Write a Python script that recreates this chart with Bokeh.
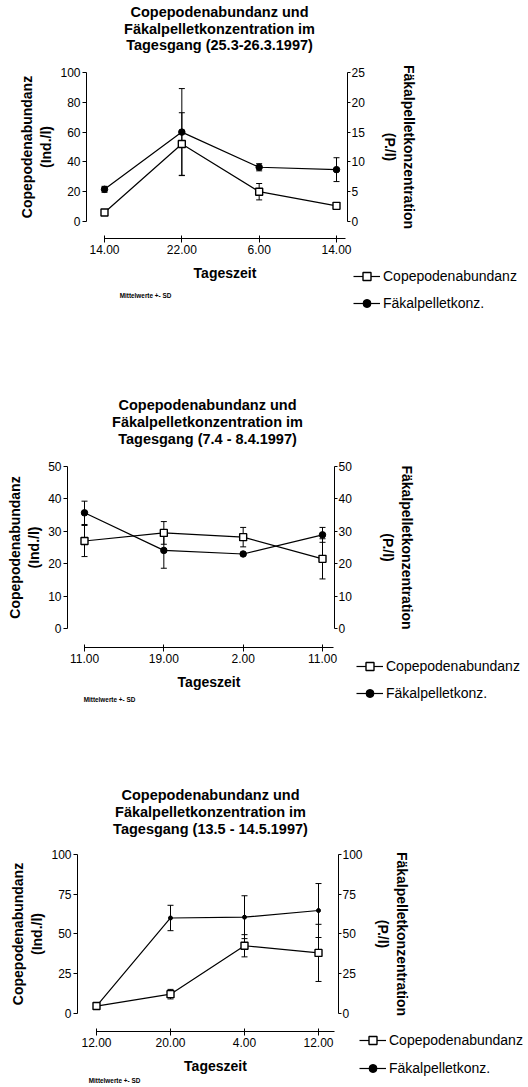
from bokeh.plotting import figure
from bokeh.models import (Range1d, LinearAxis, FixedTicker, Whisker, TeeHead,
                          ColumnDataSource, Label, Legend, LegendItem)
from bokeh.layouts import column
from bokeh.embed import file_html
from bokeh.resources import INLINE

FONT = "Liberation Sans"

# ---------------- data ----------------
titles1 = ["Copepodenabundanz und", "Fäkalpelletkonzentration im", "Tagesgang (25.3-26.3.1997)"]
times1 = ["14.00", "22.00", "6.00", "14.00"]
cope1 = [6.0, 52.0, 20.0, 10.5]
cope1_sd = [1.5, 21.0, 5.5, 1.2]
faek1 = [5.4, 15.0, 9.1, 8.7]
faek1_sd = [0.5, 7.3, 0.6, 2.0]
left_ticks1 = [0, 20, 40, 60, 80, 100]
right_ticks1 = [0, 5, 10, 15, 20, 25]

titles2 = ["Copepodenabundanz und", "Fäkalpelletkonzentration im", "Tagesgang (7.4 - 8.4.1997)"]
times2 = ["11.00", "19.00", "2.00", "11.00"]
cope2 = [27.0, 29.5, 28.2, 21.5]
cope2_sd = [4.8, 3.5, 3.0, 6.2]
faek2 = [35.7, 24.1, 23.0, 28.9]
faek2_sd = [3.6, 5.5, 0.4, 2.3]
left_ticks2 = [0, 10, 20, 30, 40, 50]
right_ticks2 = [0, 10, 20, 30, 40, 50]

titles3 = ["Copepodenabundanz und", "Fäkalpelletkonzentration im", "Tagesgang (13.5 - 14.5.1997)"]
times3 = ["12.00", "20.00", "4.00", "12.00"]
cope3 = [4.5, 12.0, 42.5, 38.0]
cope3_sd = [0.5, 3.0, 7.0, 18.0]
faek3 = [4.5, 60.0, 60.5, 64.7]
faek3_sd = [0.5, 8.0, 13.5, 17.0]
left_ticks3 = [0, 25, 50, 75, 100]
right_ticks3 = [0, 25, 50, 75, 100]

left_label = "Copepodenabundanz\n(Ind./l)"
right_label = "Fäkalpelletkonzentration\n(P./l)"
x_label = "Tageszeit"
legend_labels = ["Copepodenabundanz", "Fäkalpelletkonz."]
note = "Mittelwerte +- SD"

W = 528
ORIGIN = 0   # the page is drawn from its top-left corner


def make_panel(titles, times, cope, cope_sd, faek, faek_sd, lticks, rticks, L):
    top = L["fig_top"]
    H = L["height"]
    bottom = top + H
    fl, ft, fr, fb = L["frame"]      # plot box (page px): left axis, top, right axis, x-axis line
    y0 = L["y0"]                     # page y of value 0
    ymax = lticks[-1]
    ymaxR = rticks[-1]
    ppu = (y0 - ft) / ymax
    k = ymaxR / ymax
    x0, x3 = L["xt"]
    sp = (x3 - x0) / 3.0
    xs = list(range(len(times)))

    def xd(px):
        return (px - x0) / sp

    def yd(py):
        return (y0 - py) / ppu

    p = figure(width=W, height=H, output_backend="svg", toolbar_location=None,
               x_range=Range1d(xd(ORIGIN), xd(ORIGIN + W)),
               y_range=Range1d(yd(bottom), yd(top)),
               x_axis_location=None, y_axis_location=None,
               min_border=0, min_border_left=0, min_border_right=0,
               min_border_top=0, min_border_bottom=0,
               background_fill_color="white", border_fill_color="white")
    p.outline_line_color = None
    p.grid.visible = False
    p.extra_y_ranges = {"right": Range1d(yd(bottom) * k, yd(top) * k)}

    def style_axis(ax):
        ax.axis_line_color = "black"
        ax.axis_line_width = 1
        ax.major_tick_line_color = "black"
        ax.major_tick_line_width = 1
        ax.minor_tick_line_color = None
        ax.major_label_text_font = FONT
        ax.major_label_text_font_size = "12px"
        ax.major_label_text_color = "black"
        ax.axis_label_text_font = FONT
        ax.axis_label_text_font_size = "14px"
        ax.axis_label_text_font_style = "bold"
        ax.axis_label_text_color = "black"

    ya = LinearAxis(fixed_location=xd(fl))
    style_axis(ya)
    ya.ticker = FixedTicker(ticks=lticks)
    ya.bounds = (0, ymax)
    ya.major_tick_in = 0
    ya.major_tick_out = 4
    ya.major_label_standoff = 2
    ya.axis_label = left_label
    ya.axis_label_standoff = L["als_left"]
    p.add_layout(ya, "left")

    ra = LinearAxis(y_range_name="right", fixed_location=xd(fr))
    style_axis(ra)
    ra.ticker = FixedTicker(ticks=rticks)
    ra.bounds = (0, ymaxR)
    ra.major_tick_in = 0
    ra.major_tick_out = 3
    ra.major_label_standoff = 1
    ra.axis_label = right_label
    ra.axis_label_standoff = L["als_right"]
    p.add_layout(ra, "right")

    xa = LinearAxis(fixed_location=yd(fb))
    style_axis(xa)
    xa.ticker = FixedTicker(ticks=xs)
    xa.major_label_overrides = {i: t for i, t in enumerate(times)}
    xa.bounds = (0, L["xb_end"])
    xa.major_tick_in = 3
    xa.major_tick_out = 4
    xa.major_label_standoff = 2
    xa.axis_label = x_label
    xa.axis_label_standoff = 8
    p.add_layout(xa, "below")

    # error bars (mean +- SD)
    fsrc = ColumnDataSource(dict(x=xs, lo=[v - s for v, s in zip(faek, faek_sd)],
                                 hi=[v + s for v, s in zip(faek, faek_sd)]))
    csrc = ColumnDataSource(dict(x=xs, lo=[v - s for v, s in zip(cope, cope_sd)],
                                 hi=[v + s for v, s in zip(cope, cope_sd)]))
    for src, rng in ((fsrc, "right"), (csrc, "default")):
        w = Whisker(base="x", lower="lo", upper="hi", source=src, dimension="height",
                    line_color="black", line_width=1, y_range_name=rng,
                    upper_head=TeeHead(size=6, line_color="black", line_width=1),
                    lower_head=TeeHead(size=6, line_color="black", line_width=1))
        p.add_layout(w)

    fl_r = p.line(xs, faek, y_range_name="right", line_color="black", line_width=1.2)
    fs_r = p.scatter(xs, faek, y_range_name="right", marker="circle", size=L["fsize"],
                     fill_color="black", line_color="black")
    cl_r = p.line(xs, cope, line_color="black", line_width=1.2)
    cs_r = p.scatter(xs, cope, marker="square", size=7, fill_color="white",
                     line_color="black", line_width=1.4)

    # titles and note (screen px relative to the figure's bottom-left)
    tx = L["title_x"]
    for txt, ty in zip(titles, L["title_y"]):
        p.add_layout(Label(x=tx - ORIGIN, y=bottom - ty, x_units="screen", y_units="screen",
                           text=txt, text_align="center", text_baseline="middle",
                           text_font=FONT, text_font_style="bold",
                           text_font_size="14.5px", text_color="black"))
    mx, my = L["note"]
    p.add_layout(Label(x=mx - ORIGIN, y=bottom - my, x_units="screen", y_units="screen",
                       text=note, text_align="center", text_baseline="middle",
                       text_font=FONT, text_font_style="bold",
                       text_font_size="6.4px", text_color="black"))

    lx, ltop = L["legend"]
    lh = 20 * 2 + L["lspace"]
    leg = Legend(items=[LegendItem(label=legend_labels[0], renderers=[cl_r, cs_r]),
                        LegendItem(label=legend_labels[1], renderers=[fl_r, fs_r])],
                 location=(lx - ORIGIN, bottom - lh - ltop),
                 background_fill_alpha=0, border_line_alpha=0, padding=0, margin=0,
                 glyph_width=27, glyph_height=20, label_height=20, label_standoff=3,
                 spacing=L["lspace"], label_text_font=FONT, label_text_font_size="14px",
                 label_text_color="black")
    p.add_layout(leg)
    return p


L1 = dict(fig_top=0, height=388, frame=(86, 72, 347, 238), y0=221, xt=(104, 336), xb_end=3.12,
          als_left=3, als_right=14, fsize=6.5, legend=(353, 266), lspace=7,
          title_x=219, title_y=[11.5, 28, 44.5], note=(145, 295))
L2 = dict(fig_top=388, height=388, frame=(67, 466, 334, 647), y0=628, xt=(84, 322), xb_end=3.14,
          als_left=3, als_right=25, fsize=6.5, legend=(356, 656), lspace=7,
          title_x=207, title_y=[404, 421, 438], note=(109, 699))
L3 = dict(fig_top=776, height=311, frame=(77, 854, 338, 1031), y0=1012.7, xt=(96, 318), xb_end=3.21,
          als_left=3, als_right=9, fsize=4, legend=(359, 1030), lspace=8,
          title_x=210, title_y=[794, 811, 828], note=(114, 1080))

p1 = make_panel(titles1, times1, cope1, cope1_sd, faek1, faek1_sd, left_ticks1, right_ticks1, L1)
p2 = make_panel(titles2, times2, cope2, cope2_sd, faek2, faek2_sd, left_ticks2, right_ticks2, L2)
p3 = make_panel(titles3, times3, cope3, cope3_sd, faek3, faek3_sd, left_ticks3, right_ticks3, L3)

page = column(p1, p2, p3, spacing=0)
open("out.html", "w").write(file_html(page, INLINE))
